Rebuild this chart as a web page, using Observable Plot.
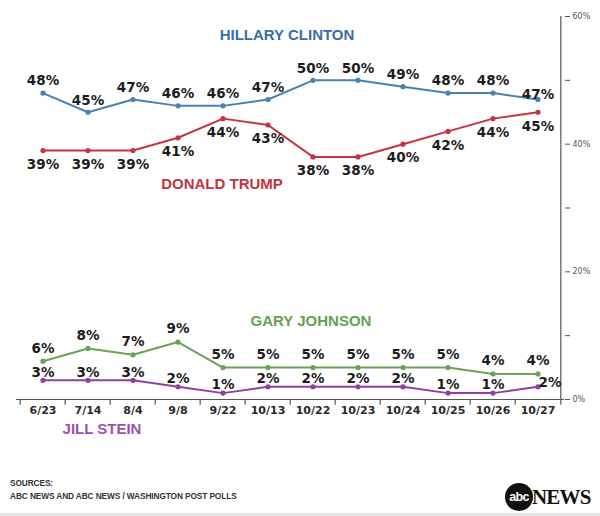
<!DOCTYPE html>
<html>
<head>
<meta charset="utf-8">
<script src="https://cdn.jsdelivr.net/npm/d3@7"></script>
<script src="https://cdn.jsdelivr.net/npm/@observablehq/plot@0.6"></script>
<style>
  body { margin: 0; background: #fff; }
  #wrap { position: relative; width: 600px; height: 516px; overflow: hidden; background: #fff; }
  #chart svg { display: block; }
  #chart g[aria-label="x-axis tick label"] text { font-weight: bold; }
  .sources { position: absolute; left: 10px; top: 477px; font-family: "Liberation Sans", Arial, sans-serif;
             font-weight: bold; font-size: 8.3px; letter-spacing: -0.1px; color: #333; line-height: 13px; }
  .logo { position: absolute; left: 505px; top: 482px; height: 30px; display: flex; align-items: center; }
  .logo .ball { width: 28px; height: 28px; border-radius: 50%; background: #111; color: #fff;
                font-family: "Liberation Sans", Arial, sans-serif; font-weight: bold; font-size: 12.5px;
                letter-spacing: -0.6px; display: flex; align-items: center; justify-content: center; }
  .logo .word { font-family: "Liberation Serif", "Times New Roman", serif; font-weight: bold; font-size: 21px;
                color: #111; margin-left: -1px; letter-spacing: -0.8px; }
  .band { position: absolute; left: 0; top: 513px; width: 600px; height: 3px; background: #e6e6e6; }
</style>
</head>
<body>
<div id="wrap">
  <div id="chart"></div>
  <div class="sources">SOURCES:<br>ABC NEWS AND ABC NEWS / WASHINGTON POST POLLS</div>
  <div class="logo"><div class="ball">abc</div><div class="word">NEWS</div></div>
  <div class="band"></div>
</div>
<script>
// Poll dates
const dates = ["6/23", "7/14", "8/4", "9/8", "9/22", "10/13", "10/22", "10/23", "10/24", "10/25", "10/26", "10/27"];

// Support (%) for each candidate
const clinton = [48, 45, 47, 46, 46, 47, 50, 50, 49, 48, 48, 47];
const trump   = [39, 39, 39, 41, 44, 43, 38, 38, 40, 42, 44, 45];
const johnson = [6, 8, 7, 9, 5, 5, 5, 5, 5, 5, 4, 4];
const stein   = [3, 3, 3, 2, 1, 2, 2, 2, 2, 1, 1, 2];

// Right-hand axis ticks
const yTicks = [0, 10, 20, 30, 40, 50, 60];
const yLabelTicks = [0, 20, 40, 60];

const W = 600, H = 516;
const margin = {left: 16, right: 36, top: 16, bottom: 117};
const step = (W - margin.left - margin.right) / dates.length;

const series = [
  {name: "HILLARY CLINTON", values: clinton, line: "#4b80b3", ink: "#3c6ea3", dy: -12,
   tag: {date: "10/13", value: 57, dx: 19},
   // the last figure tucks down toward the Trump line
   nudge: {11: {dx: 0, dy: -5}}},
  {name: "DONALD TRUMP", values: trump, line: "#c8333f", ink: "#c23540", dy: 14,
   tag: {date: "9/22", value: 33.8, dx: -1}, nudge: {}},
  {name: "GARY JOHNSON", values: johnson, line: "#69a457", ink: "#67a052", dy: -13,
   tag: {date: "10/22", value: 12.2, dx: -2}, nudge: {}},
  {name: "JILL STEIN", values: stein, line: "#913f9f", ink: "#9a52b0", dy: -8,
   tag: {date: "7/14", value: -4.7, dx: 14},
   // the last figure moves right, clear of Johnson's 4%
   nudge: {11: {dx: 12, dy: -4}}}
];

const labelFont = "DejaVu Sans, Verdana, sans-serif";
const nameFont = "Liberation Sans, Arial, sans-serif";

const marks = [
  // baseline and right axis line
  Plot.ruleY([0], {stroke: "#555", strokeWidth: 1.2}),
  Plot.ruleX([dates[dates.length - 1]], {dx: step / 2, y1: -0.9, y2: 60, stroke: "#555", strokeWidth: 1.2}),
  // separators between poll dates, hanging below the baseline
  Plot.ruleX(dates, {x: d => d, dx: -step / 2, y1: 0, y2: -0.9, stroke: "#555", strokeWidth: 1.2}),
  Plot.axisX({tickSize: 0, tickPadding: 7, fontSize: 11, fontWeight: "bold", fill: "#2a2a2a",
              fontFamily: labelFont, label: null}),
  Plot.axisY(yTicks, {anchor: "right", tickSize: 5, tickPadding: 3, fontSize: 8, fill: "#555",
                      stroke: "#555", label: null,
                      tickFormat: d => yLabelTicks.includes(d) ? `${d}%` : ""})
];

for (const s of series) {
  const rows = s.values.map((v, i) => ({date: dates[i], value: v, i}));
  const plain = rows.filter(d => !(d.i in s.nudge));
  const moved = rows.filter(d => d.i in s.nudge);
  const textStyle = {x: "date", y: "value", text: d => `${d.value}%`,
                     fontSize: 13.5, fontWeight: "bold", fontFamily: labelFont, fill: "#1c1c1c"};
  marks.push(
    Plot.lineY(rows, {x: "date", y: "value", stroke: s.line, strokeWidth: 2}),
    Plot.dot(rows, {x: "date", y: "value", fill: s.line, r: 2.6}),
    Plot.text(plain, {...textStyle, dy: s.dy}),
    ...moved.map(d => Plot.text([d], {...textStyle, dx: s.nudge[d.i].dx, dy: s.nudge[d.i].dy})),
    Plot.text([s.tag], {
      x: "date", y: "value", text: () => s.name, dx: s.tag.dx,
      fontSize: 15, fontWeight: "bold", fontFamily: nameFont, fill: s.ink
    })
  );
}

const chart = Plot.plot({
  width: W,
  height: H,
  marginLeft: margin.left,
  marginRight: margin.right,
  marginTop: margin.top,
  marginBottom: margin.bottom,
  style: {background: "transparent", fontFamily: labelFont},
  x: {type: "band", domain: dates, padding: 0, axis: null},
  y: {domain: [0, 60], axis: null},
  marks
});

document.getElementById("chart").append(chart);
</script>
</body>
</html>
